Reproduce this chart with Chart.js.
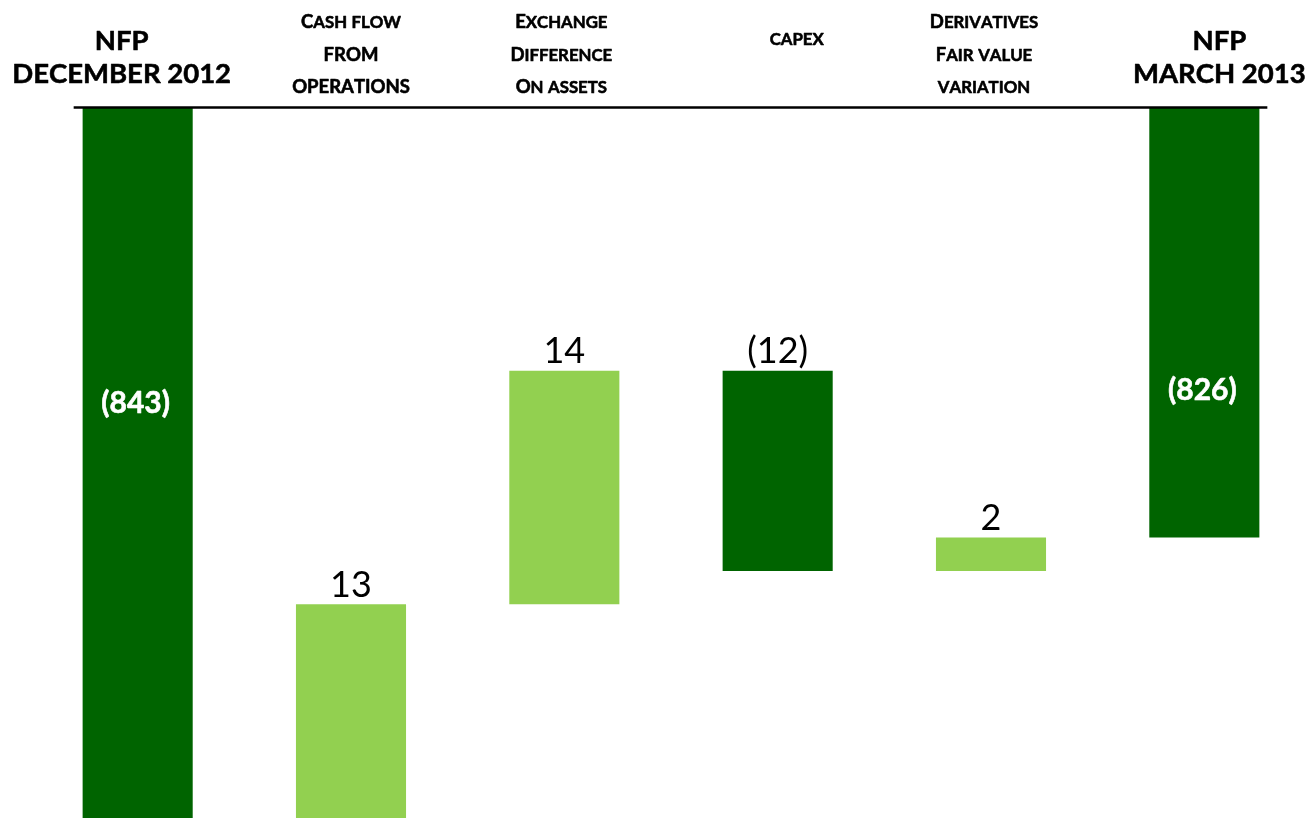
<!DOCTYPE html>
<html>
<head>
<meta charset="utf-8">
<script src="https://cdn.jsdelivr.net/npm/chart.js@4.4.1/dist/chart.umd.min.js"></script>
<style>
  html, body { margin: 0; padding: 0; background: #ffffff; overflow: hidden; }
  #wrap { width: 1311px; height: 818px; position: relative; }
</style>
</head>
<body>
<div id="wrap"><canvas id="c"></canvas></div>
<script>
// ---- data ----
const categories = ["NFP December 2012", "Cash flow from operations", "Exchange Difference On assets", "capex", "Derivatives Fair value variation", "NFP March 2013"];
const tickLabels = [
  ["NFP", "DECEMBER 2012"],
  ["Cash flow", "FROM", "OPERATIONS"],
  ["Exchange", "Difference", "On assets"],
  ["capex"],
  ["Derivatives", "Fair value", "variation"],
  ["NFP", "MARCH 2013"]
];
const values = [-843, 13, 14, -12, 2, -826];
const barKinds = ["total", "step", "step", "step", "step", "total"];
const valueLabels = ["(843)", "13", "14", "(12)", "2", "(826)"];

// ---- floating ranges built from the values ----
let running = 0;
const ranges = values.map((v, i) => {
  if (barKinds[i] === "total") { running = v; return [v, 0]; }
  const start = running; running += v; return [start, running];
});

const DARK = "#006400";
const LIGHT = "#92D050";
const barColors = values.map((v, i) => (barKinds[i] === "total" || v < 0) ? DARK : LIGHT);

// ---- styling for text ----
const FAMILY = "Lato, 'Open Sans', sans-serif";
const WEIGHT = "bold";
const headStyle = [
  { big: 27.5, small: 27.5, first: 50, lh: 33.3, dx: -16 },
  { big: 18.5, small: 16.8, first: 28, lh: 32.5, dx: 0 },
  { big: 18.5, small: 16.8, first: 28, lh: 32.5, dx: -3 },
  { big: 18.5, small: 16.8, first: 45, lh: 32.5, dx: 19 },
  { big: 18.5, small: 16.8, first: 28, lh: 32.5, dx: -7 },
  { big: 27.5, small: 27.5, first: 50, lh: 33.3, dx: 15 }
];
const insideLabelBaseline = { 0: 413, 5: 400 };

function drawSmallCaps(ctx, text, cx, baseline, big, small) {
  const parts = [];
  let total = 0;
  for (const ch of text) {
    const isLower = ch !== ch.toUpperCase();
    const size = isLower ? small : big;
    const glyph = ch.toUpperCase();
    ctx.font = WEIGHT + " " + size + "px " + FAMILY;
    const w = ctx.measureText(glyph).width;
    parts.push({ glyph, size, w });
    total += w;
  }
  let x = cx - total / 2;
  ctx.textAlign = "left";
  ctx.textBaseline = "alphabetic";
  for (const p of parts) {
    ctx.font = WEIGHT + " " + p.size + "px " + FAMILY;
    ctx.fillText(p.glyph, x, baseline);
    ctx.strokeText(p.glyph, x, baseline);
    x += p.w;
  }
}

const waterfallText = {
  id: "waterfallText",
  afterDatasetsDraw(chart) {
    const ctx = chart.ctx;
    const xs = chart.scales.x;
    const area = chart.chartArea;
    const meta = chart.getDatasetMeta(0);
    ctx.save();

    // axis line along the top of the plot
    ctx.strokeStyle = "#000000";
    ctx.lineWidth = 2.5;
    ctx.beginPath();
    ctx.moveTo(xs.getPixelForValue(0) - 64, area.top + 0.5);
    ctx.lineTo(xs.getPixelForValue(categories.length - 1) + 63, area.top + 0.5);
    ctx.stroke();

    // category headings
    ctx.fillStyle = "#000000";
    ctx.strokeStyle = "#000000";
    ctx.lineWidth = 0.6;
    ctx.lineJoin = "round";
    tickLabels.forEach((lines, i) => {
      const st = headStyle[i];
      const cx = xs.getPixelForValue(i) + st.dx;
      lines.forEach((line, j) => {
        drawSmallCaps(ctx, line, cx, st.first + j * st.lh, st.big, st.small);
      });
    });

    // value labels
    meta.data.forEach((bar, i) => {
      const x = bar.x;
      ctx.textAlign = "center";
      ctx.textBaseline = "alphabetic";
      if (barKinds[i] === "total") {
        ctx.fillStyle = "#ffffff";
        ctx.strokeStyle = "#ffffff";
        ctx.lineWidth = 0.6;
        ctx.font = "bold 30px " + FAMILY;
        ctx.fillText(valueLabels[i], x - 2, insideLabelBaseline[i]);
        ctx.strokeText(valueLabels[i], x - 2, insideLabelBaseline[i]);
      } else {
        const top = Math.min(bar.y, bar.base);
        ctx.fillStyle = "#000000";
        ctx.font = "36px " + FAMILY;
        ctx.fillText(valueLabels[i], x, top - 7.5);
      }
    });
    ctx.restore();
  }
};

new Chart(document.getElementById("c"), {
  type: "bar",
  data: {
    labels: categories,
    datasets: [{
      data: ranges,
      backgroundColor: barColors,
      borderWidth: 0,
      barPercentage: 0.516,
      categoryPercentage: 1.0
    }]
  },
  options: {
    responsive: true,
    maintainAspectRatio: false,
    animation: false,
    devicePixelRatio: 1,
    layout: { padding: { left: 31, right: 0, top: 107, bottom: 0 } },
    plugins: { legend: { display: false }, tooltip: { enabled: false } },
    scales: {
      x: { display: false, offset: true, grid: { display: false } },
      y: { display: false, min: -842.8, max: -800.2, grid: { display: false } }
    }
  },
  plugins: [waterfallText]
});
</script>
</body>
</html>
